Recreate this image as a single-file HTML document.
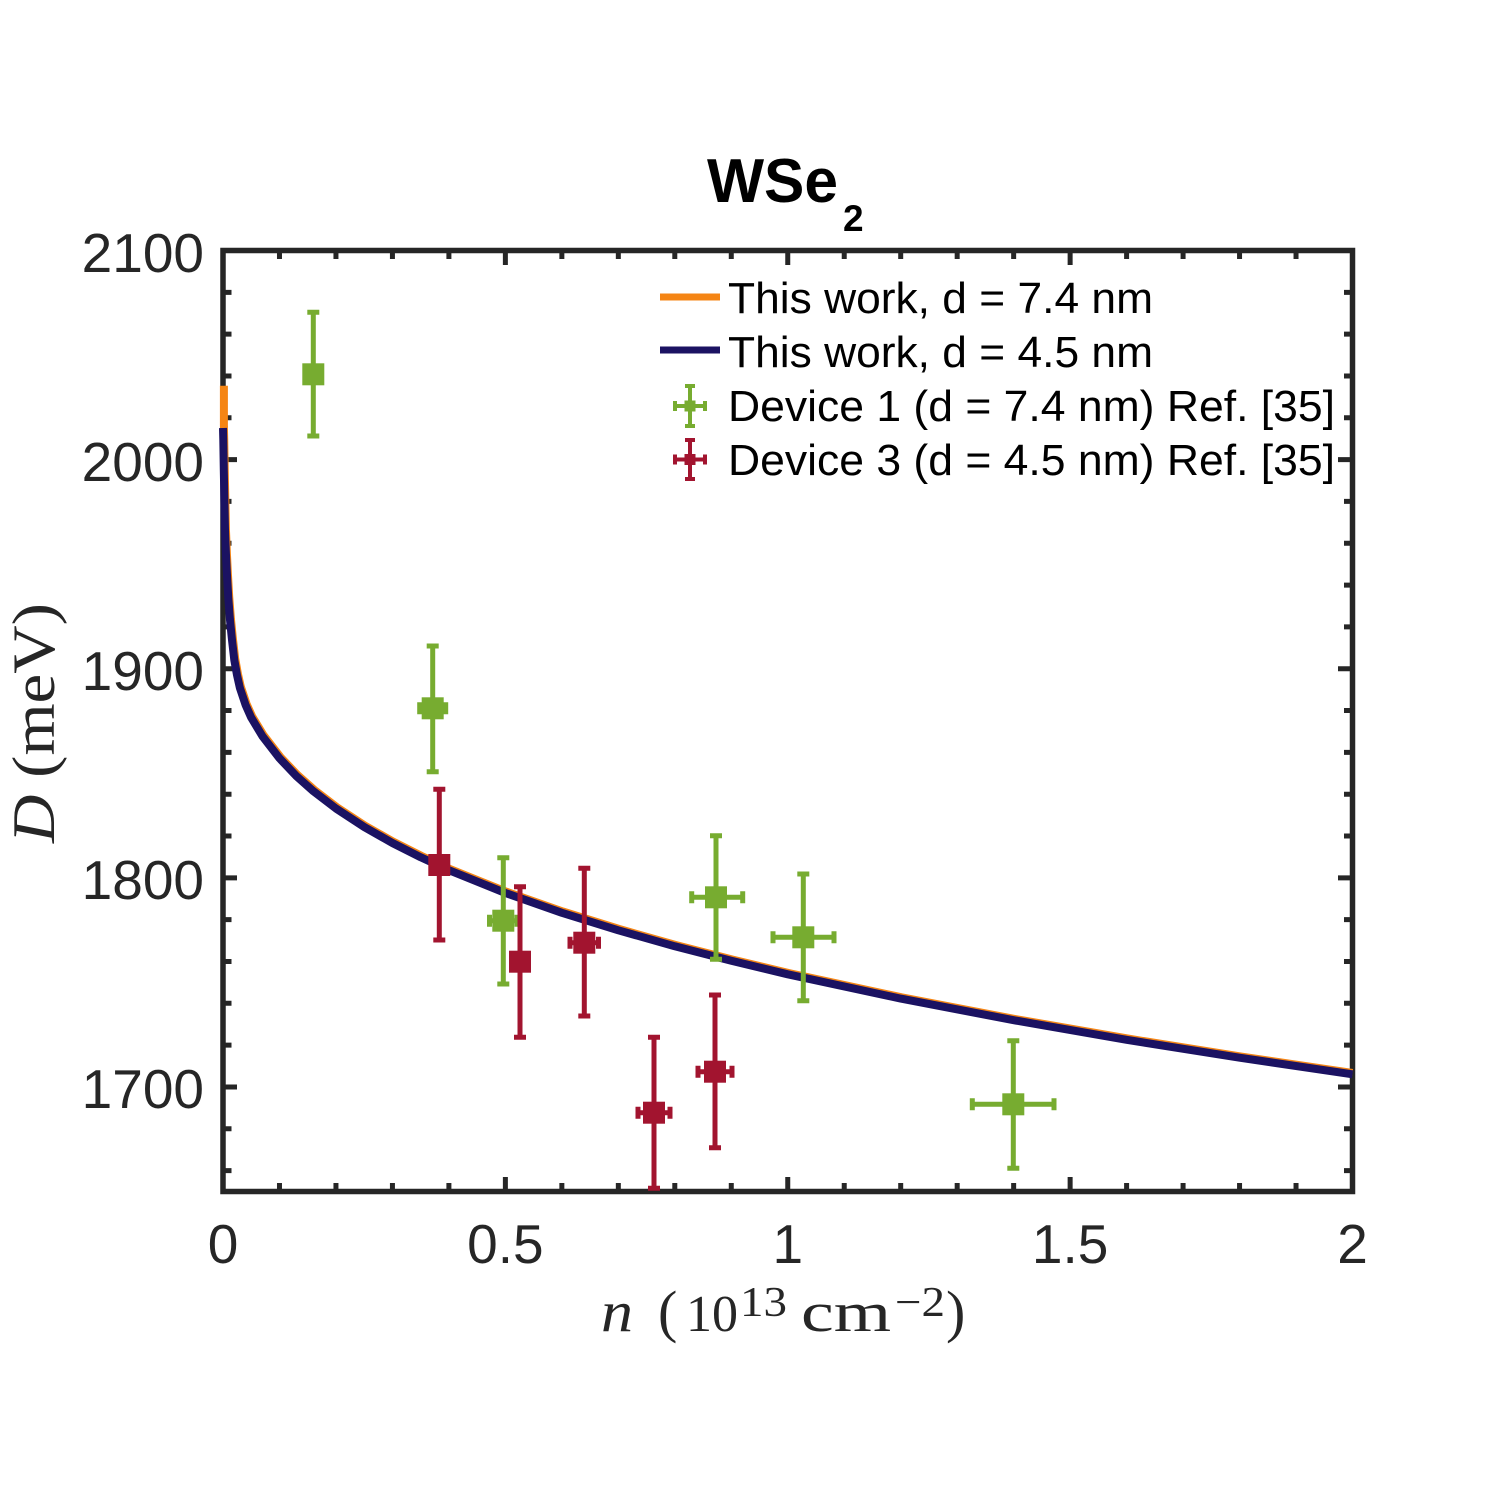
<!DOCTYPE html>
<html>
<head>
<meta charset="utf-8">
<style>
html,body{margin:0;padding:0;background:#fff;}
svg{display:block;}
</style>
</head>
<body>
<svg width="1495" height="1495" viewBox="0 0 1495 1495" xmlns="http://www.w3.org/2000/svg">
<rect x="0" y="0" width="1495" height="1495" fill="#fff"/>

<!-- Title -->
<text x="707" y="202" font-family="Liberation Sans, Arial, sans-serif" font-weight="bold" font-size="62" fill="#000" textLength="131" lengthAdjust="spacingAndGlyphs">WSe</text>
<text x="843" y="231" font-family="Liberation Sans, Arial, sans-serif" font-weight="bold" font-size="37" fill="#000">2</text>

<!-- Axes box -->
<rect x="223" y="250.5" width="1129.5" height="941" fill="none" stroke="#262626" stroke-width="5.5"/>

<!-- Ticks -->
<g stroke="#262626" stroke-width="5" fill="none">
<!-- bottom minor -->
<path d="M279.48 1191.5V1183 M335.95 1191.5V1183 M392.43 1191.5V1183 M448.9 1191.5V1183 M561.85 1191.5V1183 M618.33 1191.5V1183 M674.8 1191.5V1183 M731.28 1191.5V1183 M844.23 1191.5V1183 M900.7 1191.5V1183 M957.18 1191.5V1183 M1013.65 1191.5V1183 M1126.6 1191.5V1183 M1183.08 1191.5V1183 M1239.55 1191.5V1183 M1296.03 1191.5V1183"/>
<!-- bottom major -->
<path d="M505.38 1191.5V1177 M787.75 1191.5V1177 M1070.13 1191.5V1177"/>
<!-- top minor -->
<path d="M279.48 250.5V259 M335.95 250.5V259 M392.43 250.5V259 M448.9 250.5V259 M561.85 250.5V259 M618.33 250.5V259 M674.8 250.5V259 M731.28 250.5V259 M844.23 250.5V259 M900.7 250.5V259 M957.18 250.5V259 M1013.65 250.5V259 M1126.6 250.5V259 M1183.08 250.5V259 M1239.55 250.5V259 M1296.03 250.5V259"/>
<!-- top major -->
<path d="M505.38 250.5V265 M787.75 250.5V265 M1070.13 250.5V265"/>
<!-- left minor -->
<path d="M223 292.32H231.5 M223 334.14H231.5 M223 375.97H231.5 M223 417.79H231.5 M223 501.43H231.5 M223 543.25H231.5 M223 585.08H231.5 M223 626.9H231.5 M223 710.54H231.5 M223 752.36H231.5 M223 794.19H231.5 M223 836.01H231.5 M223 919.65H231.5 M223 961.47H231.5 M223 1003.3H231.5 M223 1045.12H231.5 M223 1128.76H231.5 M223 1170.58H231.5"/>
<!-- left major -->
<path d="M223 459.61H237 M223 668.72H237 M223 877.83H237 M223 1086.94H237"/>
<!-- right minor -->
<path d="M1352.5 292.32H1344 M1352.5 334.14H1344 M1352.5 375.97H1344 M1352.5 417.79H1344 M1352.5 501.43H1344 M1352.5 543.25H1344 M1352.5 585.08H1344 M1352.5 626.9H1344 M1352.5 710.54H1344 M1352.5 752.36H1344 M1352.5 794.19H1344 M1352.5 836.01H1344 M1352.5 919.65H1344 M1352.5 961.47H1344 M1352.5 1003.3H1344 M1352.5 1045.12H1344 M1352.5 1128.76H1344 M1352.5 1170.58H1344"/>
<!-- right major -->
<path d="M1352.5 459.61H1338 M1352.5 668.72H1338 M1352.5 877.83H1338 M1352.5 1086.94H1338"/>
</g>

<!-- Y tick labels -->
<g font-family="Liberation Sans, Arial, sans-serif" font-size="55" fill="#262626" text-anchor="end">
<text x="204" y="272">2100</text>
<text x="204" y="481">2000</text>
<text x="204" y="690">1900</text>
<text x="204" y="899">1800</text>
<text x="204" y="1108">1700</text>
</g>

<!-- X tick labels -->
<g font-family="Liberation Sans, Arial, sans-serif" font-size="55" fill="#262626" text-anchor="middle">
<text x="223" y="1263">0</text>
<text x="505.4" y="1263">0.5</text>
<text x="787.75" y="1263">1</text>
<text x="1070.1" y="1263">1.5</text>
<text x="1352.5" y="1263">2</text>
</g>

<!-- Y axis label -->
<text transform="translate(54,843) rotate(-90)" font-family="Liberation Serif, 'Times New Roman', serif" font-size="60" fill="#262626" textLength="240" lengthAdjust="spacingAndGlyphs"><tspan font-style="italic">D</tspan> (meV)</text>

<!-- X axis label -->
<g font-family="Liberation Serif, 'Times New Roman', serif" fill="#262626">
<text x="601" y="1331" font-size="58" font-style="italic" textLength="32" lengthAdjust="spacingAndGlyphs">n</text>
<text x="658" y="1331" font-size="58">(</text>
<text x="686" y="1331" font-size="52" textLength="52" lengthAdjust="spacingAndGlyphs">10</text>
<text x="740" y="1316" font-size="42" textLength="47" lengthAdjust="spacingAndGlyphs">13</text>
<text x="801" y="1331" font-size="56" textLength="90" lengthAdjust="spacingAndGlyphs">cm</text>
<text x="895" y="1316" font-size="42" textLength="50" lengthAdjust="spacingAndGlyphs">−2</text>
<text x="946" y="1331" font-size="58">)</text>
</g>

<!-- Curves -->
<polyline transform="translate(0.9,-1.3)" fill="none" stroke="#f58514" stroke-width="8" stroke-linejoin="round" stroke-linecap="butt"
points="223,387 223,428 223.3,440 223.8,470 224.4,500 225,530 226,555 227,575 228.3,598 230,620 232,640 234.3,660 237,675 239.9,688 245.6,705 251.2,717.6 262.5,736.3 279.5,758.3 296.4,776.1 313.4,791.2 335.95,808.5 364.2,827 392.4,843 420.7,857.3 448.9,870.2 505.4,893 561.9,912.8 618.3,930.3 674.8,946.3 731.3,960.8 787.75,974.3 900.7,998.6 1013.65,1020.2 1126.6,1039.8 1239.55,1057.7 1351.6,1074.3"/>
<polyline fill="none" stroke="#1b1262" stroke-width="8" stroke-linejoin="round" stroke-linecap="butt"
points="223,428 223.3,440 223.8,470 224.4,500 225,530 226,555 227,575 228.3,598 230,620 232,640 234.3,660 237,675 239.9,688 245.6,705 251.2,717.6 262.5,736.3 279.5,758.3 296.4,776.1 313.4,791.2 335.95,808.5 364.2,827 392.4,843 420.7,857.3 448.9,870.2 505.4,893 561.9,912.8 618.3,930.3 674.8,946.3 731.3,960.8 787.75,974.3 900.7,998.6 1013.65,1020.2 1126.6,1039.8 1239.55,1057.7 1352.5,1074.3"/>

<!-- Green data (Device 1) -->
<g stroke="#77ac30" stroke-width="5" fill="#77ac30">
<!-- G1 -->
<path d="M313.3 312.3V436 M307.3 312.3H319.3 M307.3 436H319.3"/>
<rect x="302.3" y="363.3" width="22" height="22" stroke="none"/>
<!-- G2 -->
<path d="M432.7 646V771.7 M426.7 646H438.7 M426.7 771.7H438.7 M419.7 708.3H445.7 M419.7 702.3V714.3 M445.7 702.3V714.3"/>
<rect x="421.7" y="697.3" width="22" height="22" stroke="none"/>
<!-- G3 -->
<path d="M503.3 857.7V984 M497.3 857.7H509.3 M497.3 984H509.3 M489.5 920.7H517 M489.5 914.7V926.7 M517 914.7V926.7"/>
<rect x="492.3" y="909.7" width="22" height="22" stroke="none"/>
<!-- G4 -->
<path d="M716 835.7V959.3 M710 835.7H722 M710 959.3H722 M691.7 897.3H742.7 M691.7 891.3V903.3 M742.7 891.3V903.3"/>
<rect x="705" y="886.3" width="22" height="22" stroke="none"/>
<!-- G5 -->
<path d="M803.3 874V1000.7 M797.3 874H809.3 M797.3 1000.7H809.3 M773 937.3H834 M773 931.3V943.3 M834 931.3V943.3"/>
<rect x="792.3" y="926.3" width="22" height="22" stroke="none"/>
<!-- G6 -->
<path d="M1013.3 1040.7V1168.3 M1007.3 1040.7H1019.3 M1007.3 1168.3H1019.3 M972.3 1104.3H1054 M972.3 1098.3V1110.3 M1054 1098.3V1110.3"/>
<rect x="1002.3" y="1093.3" width="22" height="22" stroke="none"/>
</g>

<!-- Red data (Device 3) -->
<g stroke="#a2142f" stroke-width="5" fill="#a2142f">
<!-- R1 -->
<path d="M439.3 789.3V940 M433.3 789.3H445.3 M433.3 940H445.3"/>
<rect x="428.3" y="854" width="22" height="22" stroke="none"/>
<!-- R2 -->
<path d="M520 886.7V1037.3 M514 886.7H526 M514 1037.3H526"/>
<rect x="509" y="950.7" width="22" height="22" stroke="none"/>
<!-- R3 -->
<path d="M584.3 868.3V1016 M578.3 868.3H590.3 M578.3 1016H590.3 M570 942.7H598.5 M570 936.7V948.7 M598.5 936.7V948.7"/>
<rect x="573.3" y="931.7" width="22" height="22" stroke="none"/>
<!-- R4 -->
<path d="M654 1037.3V1188.3 M648 1037.3H660 M648 1188.3H660 M638 1112.7H670 M638 1106.7V1118.7 M670 1106.7V1118.7"/>
<rect x="643" y="1101.7" width="22" height="22" stroke="none"/>
<!-- R5 -->
<path d="M715 995V1147.7 M709 995H721 M709 1147.7H721 M698 1071.7H732 M698 1065.7V1077.7 M732 1065.7V1077.7"/>
<rect x="704" y="1060.7" width="22" height="22" stroke="none"/>
</g>

<!-- Legend -->
<line x1="660" y1="297" x2="720" y2="297" stroke="#f58514" stroke-width="7"/>
<line x1="660" y1="350" x2="720" y2="350" stroke="#1b1262" stroke-width="7"/>
<g stroke="#77ac30" stroke-width="4" fill="#77ac30">
<path d="M690 386V426 M685 386H695 M685 426H695 M675 406H705 M675 401V411 M705 401V411"/>
<rect x="684.5" y="400.5" width="11" height="11" stroke="none"/>
</g>
<g stroke="#a2142f" stroke-width="4" fill="#a2142f">
<path d="M690 440V479 M685 440H695 M685 479H695 M675 459.5H705 M675 454.5V464.5 M705 454.5V464.5"/>
<rect x="684.5" y="454" width="11" height="11" stroke="none"/>
</g>
<g font-family="Liberation Sans, Arial, sans-serif" font-size="44" fill="#000">
<text x="728" y="313" textLength="425" lengthAdjust="spacingAndGlyphs">This work, d = 7.4 nm</text>
<text x="728" y="367" textLength="425" lengthAdjust="spacingAndGlyphs">This work, d = 4.5 nm</text>
<text x="728" y="421" textLength="607" lengthAdjust="spacingAndGlyphs">Device 1 (d = 7.4 nm) Ref. [35]</text>
<text x="728" y="475" textLength="607" lengthAdjust="spacingAndGlyphs">Device 3 (d = 4.5 nm) Ref. [35]</text>
</g>
</svg>
</body>
</html>
